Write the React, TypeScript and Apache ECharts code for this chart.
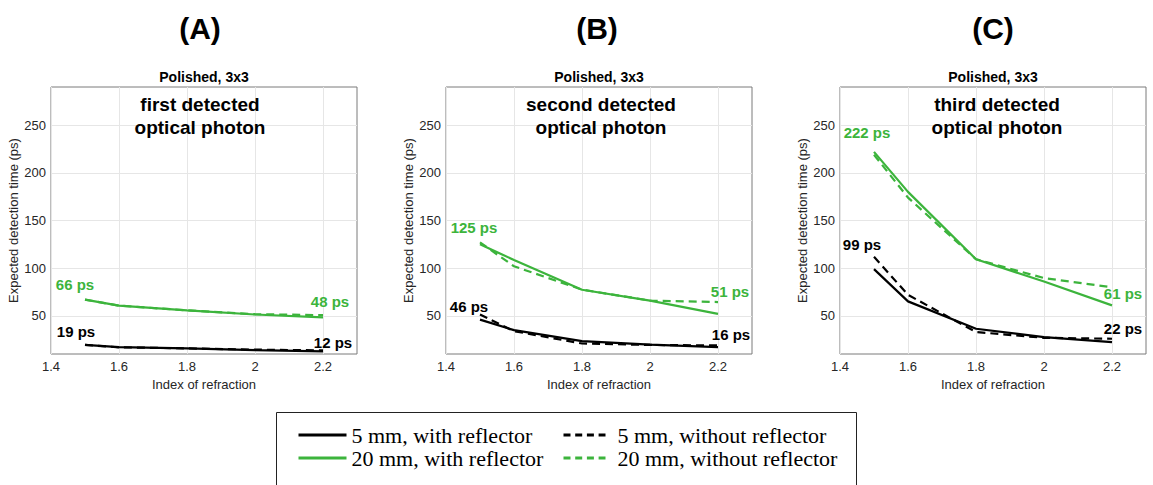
import React, { useEffect, useRef } from "react";
import * as echarts from "echarts";

// ---------- data ----------
const refractiveIndex = [1.5, 1.6, 1.8, 2.0, 2.2];
const xTickValues = [1.4, 1.6, 1.8, 2, 2.2];
const yTickValues = [50, 100, 150, 200, 250];

const panelLetters = ["(A)", "(B)", "(C)"];
const panelSubtitle = "Polished, 3x3";
const panelCaptions = [
  "first detected\noptical photon",
  "second detected\noptical photon",
  "third detected\noptical photon",
];

const seriesNames = [
  "5 mm, with reflector",
  "5 mm, without reflector",
  "20 mm, with reflector",
  "20 mm, without reflector",
];

// (A) first detected optical photon
const firstFiveWith = [19.5, 17.2, 16, 14, 12.8];
const firstFiveWithout = [19.5, 17, 15.9, 14.6, 13.8];
const firstTwentyWith = [67, 60.7, 55.8, 51.4, 48.5];
const firstTwentyWithout = [67, 60.7, 55.8, 51.8, 50.7];

// (B) second detected optical photon
const secondFiveWith = [46, 35, 23.5, 19.8, 17.3];
const secondFiveWithout = [51.4, 34, 21, 19.5, 19];
const secondTwentyWith = [125, 108.6, 77.4, 66, 52];
const secondTwentyWithout = [127, 102, 77.5, 66, 64.5];

// (C) third detected optical photon
const thirdFiveWith = [99, 65.2, 36.5, 27.7, 22.5];
const thirdFiveWithout = [112, 72, 33, 27, 26];
const thirdTwentyWith = [222, 180, 109.4, 86, 61];
const thirdTwentyWithout = [219, 174, 109.4, 89.6, 80];

// annotated values: [20 mm start, 20 mm end, 5 mm start, 5 mm end]
const firstAnnotations = [66, 48, 19, 12];
const secondAnnotations = [125, 51, 46, 16];
const thirdAnnotations = [222, 61, 99, 22];

// ---------- layout / style ----------
const GREEN = "#3cb43c";
const BLACK = "#000000";
const SANS = "'Liberation Sans', Arial, Helvetica, sans-serif";
const SERIF = "'Liberation Serif', 'Times New Roman', serif";
const gridLefts = [51, 446, 840];
const gridTop = 87;
const gridWidth = 306;
const gridHeight = 267;
const letterCenters = [200, 597, 993];
const captionCenters = [200, 601, 997];
const annotationOffsets = [
  [[-10, -16], [7, -16], [-9, -14], [10, -10]],
  [[-6, -17], [12, -23], [-11, -13], [13, -14]],
  [[-7, -19], [11, -12], [-12, -25], [11, -14]],
];

const panels = [
  { fiveWith: firstFiveWith, fiveWithout: firstFiveWithout, twentyWith: firstTwentyWith, twentyWithout: firstTwentyWithout, ann: firstAnnotations },
  { fiveWith: secondFiveWith, fiveWithout: secondFiveWithout, twentyWith: secondTwentyWith, twentyWithout: secondTwentyWithout, ann: secondAnnotations },
  { fiveWith: thirdFiveWith, fiveWithout: thirdFiveWithout, twentyWith: thirdTwentyWith, twentyWithout: thirdTwentyWithout, ann: thirdAnnotations },
];

function zip(ys: number[]) {
  return refractiveIndex.map((x, i) => [x, ys[i]]);
}

export default function App() {
  const ref = useRef<HTMLDivElement>(null);

  useEffect(() => {
    if (!ref.current) return;
    const chart = echarts.init(ref.current, null, { renderer: "svg" });

    const grids: any[] = [];
    const xAxes: any[] = [];
    const yAxes: any[] = [];
    const series: any[] = [];
    const graphics: any[] = [];

    panels.forEach((p, i) => {
      grids.push({
        left: gridLefts[i],
        top: gridTop,
        width: gridWidth,
        height: gridHeight,
        show: true,
        borderColor: "#7a7a7a",
        borderWidth: 1,
        backgroundColor: "#ffffff",
      });
      xAxes.push({
        type: "value",
        gridIndex: i,
        min: 1.4,
        max: 2.3,
        name: "Index of refraction",
        nameLocation: "middle",
        nameGap: 21,
        nameTextStyle: { fontFamily: SANS, fontSize: 13, color: "#262626", verticalAlign: "top" },
        axisLine: { show: false },
        axisTick: { show: false, customValues: xTickValues },
        axisLabel: { customValues: xTickValues, fontFamily: SANS, fontSize: 13, color: "#262626", margin: 6 },
        splitLine: { show: true, lineStyle: { color: "#e6e6e6", width: 1 } },
      });
      yAxes.push({
        type: "value",
        gridIndex: i,
        min: 10,
        max: 290,
        name: "Expected detection time (ps)",
        nameLocation: "middle",
        nameGap: 29,
        nameRotate: 90,
        nameTextStyle: { fontFamily: SANS, fontSize: 13, color: "#262626" },
        axisLine: { show: false },
        axisTick: { show: false, customValues: yTickValues },
        axisLabel: { customValues: yTickValues, fontFamily: SANS, fontSize: 13, color: "#262626", margin: 5 },
        splitLine: { show: true, lineStyle: { color: "#e6e6e6", width: 1 } },
      });

      const common = {
        type: "line",
        xAxisIndex: i,
        yAxisIndex: i,
        symbol: "none",
        silent: true,
      };
      series.push({ ...common, name: seriesNames[1], data: zip(p.fiveWithout), lineStyle: { color: BLACK, width: 2.2, type: [8, 5] }, itemStyle: { color: BLACK } });
      series.push({ ...common, name: seriesNames[3], data: zip(p.twentyWithout), lineStyle: { color: GREEN, width: 2.2, type: [8, 5] }, itemStyle: { color: GREEN } });
      series.push({ ...common, name: seriesNames[0], data: zip(p.fiveWith), lineStyle: { color: BLACK, width: 2.2 }, itemStyle: { color: BLACK } });
      series.push({ ...common, name: seriesNames[2], data: zip(p.twentyWith), lineStyle: { color: GREEN, width: 2.2 }, itemStyle: { color: GREEN } });

      const xStart = refractiveIndex[0];
      const xEnd = refractiveIndex[refractiveIndex.length - 1];
      const annX = [xStart, xEnd, xStart, xEnd];
      const annColor = [GREEN, GREEN, BLACK, BLACK];
      series.push({
        type: "scatter",
        xAxisIndex: i,
        yAxisIndex: i,
        silent: true,
        symbolSize: 1,
        itemStyle: { color: "transparent", opacity: 1 },
        z: 10,
        data: p.ann.map((v, k) => ({
          value: [annX[k], v],
          label: {
            show: true,
            position: "inside",
            formatter: `${v} ps`,
            offset: annotationOffsets[i][k],
            color: annColor[k],
            opacity: 1,
            textBorderWidth: 0,
            fontFamily: SANS,
            fontWeight: "bold",
            fontSize: 15,
            align: "center",
            verticalAlign: "middle",
          },
        })),
      });

      graphics.push({
        type: "text",
        x: letterCenters[i],
        y: 28,
        style: { text: panelLetters[i], fill: "#000", font: `bold 30px ${SANS}`, align: "center", verticalAlign: "middle" },
      });
      graphics.push({
        type: "text",
        x: gridLefts[i] + gridWidth / 2,
        y: 77,
        style: { text: panelSubtitle, fill: "#000", font: `bold 14px ${SANS}`, align: "center", verticalAlign: "middle" },
      });
      graphics.push({
        type: "text",
        x: captionCenters[i],
        y: 93,
        z: 20,
        style: {
          text: panelCaptions[i],
          fill: "#000",
          font: `bold 19px ${SANS}`,
          align: "center",
          verticalAlign: "top",
          lineHeight: 23,
        },
      });
    });

    graphics.push({
      type: "rect",
      shape: { x: 276.5, y: 412.5, width: 580, height: 100 },
      style: { fill: "#fff", stroke: "#222", lineWidth: 1 },
      z: -1,
    });

    const legendText = { fontFamily: SERIF, fontSize: 22, lineHeight: 22, color: "#000" };

    chart.setOption({
      animation: false,
      backgroundColor: "#ffffff",
      grid: grids,
      xAxis: xAxes,
      yAxis: yAxes,
      series,
      graphic: graphics,
      legend: [
        {
          orient: "vertical",
          left: 297,
          top: 424,
          padding: 0,
          itemWidth: 48,
          itemHeight: 14,
          itemGap: 1,
          selectedMode: false,
          data: [seriesNames[0], seriesNames[2]],
          textStyle: { ...legendText, padding: [0, 0, 0, 0] },
          lineStyle: { width: 3 },
          itemStyle: { opacity: 0 },
        },
        {
          orient: "vertical",
          left: 562,
          top: 424,
          padding: 0,
          itemWidth: 42,
          itemHeight: 14,
          itemGap: 1,
          selectedMode: false,
          data: [seriesNames[1], seriesNames[3]],
          textStyle: { ...legendText, padding: [0, 0, 0, 7] },
          lineStyle: { width: 3, type: [7, 4.7] },
          itemStyle: { opacity: 0 },
        },
      ],
    });

    return () => chart.dispose();
  }, []);

  return (
    <div
      ref={ref}
      style={{ position: "fixed", left: 0, top: 0, width: 1153, height: 485, background: "#fff" }}
    />
  );
}
